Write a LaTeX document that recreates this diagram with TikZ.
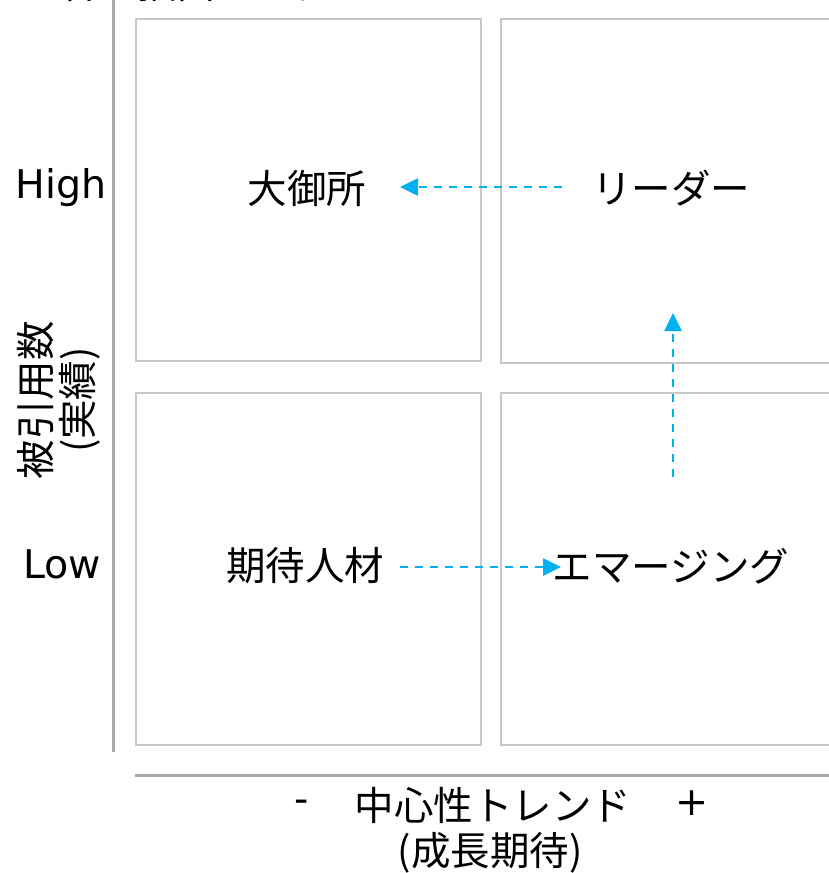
\documentclass[tikz,border=0pt]{standalone}
\usepackage{fontspec}
\setmainfont{DejaVu Sans}
\newfontfamily\cjk{Noto Sans CJK JP}
\usetikzlibrary{arrows.meta}
\definecolor{boxgray}{HTML}{C8C8C8}
\definecolor{axisgray}{HTML}{AAAAAA}
\definecolor{flow}{HTML}{00B0F0}
\tikzset{
  quad/.style={draw=boxgray, line width=2pt},
  axisline/.style={draw=axisgray, line width=3pt},
  lbl/.style={inner sep=0pt, font=\fontsize{39.5}{46}\selectfont\cjk},
  latin/.style={inner sep=0pt, font=\fontsize{39.5}{46}\selectfont},
  flowarrow/.style={draw=flow, line width=2.6pt, dash pattern=on 8pt off 7pt,
    -{Triangle[length=18pt,width=17pt]}},
}
\begin{document}
\begin{tikzpicture}[x=1pt,y=-1pt]
\useasboundingbox (0,0) rectangle (829,873);
\clip (0,0) rectangle (829,873);
% cut-off heading
\node[lbl, anchor=base west] (head) at (58,-2) {者を抽出する。};
% axes
\draw[axisline] (113,-5) -- (113,752);
\draw[axisline] (135,775) -- (840,775);
% quadrants
\draw[quad] (136,19) rectangle (481,361);
\draw[quad] (501,19) rectangle (845,363);
\draw[quad] (136,393) rectangle (481,745);
\draw[quad] (501,393) rectangle (845,745);
% axis labels
\node[latin] (high) at (61,188) {High};
\node[latin] (low) at (62,564) {Low};
\node[lbl, rotate=90, align=center, font=\fontsize{39.5}{42}\selectfont\cjk] (ylab) at (59,400) {被引用数\\(実績)};
\node[latin] (minus) at (302,806) {-};
\node[lbl] (xlab) at (493,805) {中心性トレンド};
\node[latin] (plus) at (692,803) {+};
\node[lbl] (xlab2) at (490,853) {(成長期待)};
% quadrant labels
\node[lbl] (gosho) at (307,188) {大御所};
\node[lbl] (leader) at (671,188) {リーダー};
\node[lbl] (kitai) at (305,566) {期待人材};
\node[lbl] (emerg) at (671,566) {エマージング};
% arrows
\coordinate (a1s) at (562,187);
\coordinate (a1e) at (400,187);
\coordinate (a2s) at (673,477);
\coordinate (a2e) at (673,313);
\coordinate (a3s) at (400,567);
\coordinate (a3e) at (561,567);
\draw[flowarrow] (a1s) -- (a1e);
\draw[flowarrow] (a2s) -- (a2e);
\draw[flowarrow] (a3s) -- (a3e);
\end{tikzpicture}
\end{document}
